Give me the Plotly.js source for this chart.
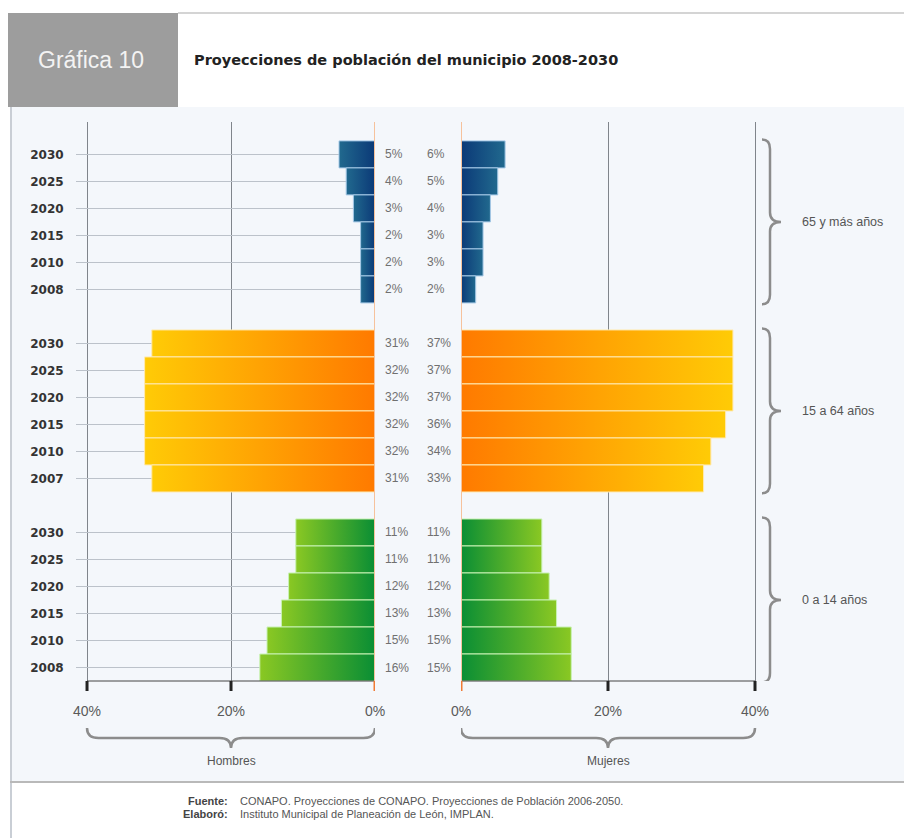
<!DOCTYPE html>
<html>
<head>
<meta charset="utf-8">
<script src="https://cdn.plot.ly/plotly-3.0.1.min.js"></script>
<style>html,body{margin:0;padding:0;background:#fff;}#chart{width:904px;height:838px;}</style>
</head>
<body>
<div id="chart"></div>
<script>
// ---- Data ----
const years65 = ['2030','2025','2020','2015','2010','2008'];
const hombres65 = [5,4,3,2,2,2];
const mujeres65 = [6,5,4,3,3,2];

const years1564 = ['2030','2025','2020','2015','2010','2007'];
const hombres1564 = [31,32,32,32,32,31];
const mujeres1564 = [37,37,37,36,34,33];

const years014 = ['2030','2025','2020','2015','2010','2008'];
const hombres014 = [11,11,12,13,15,16];
const mujeres014 = [11,11,12,13,15,15];

const groupLabels = ['0 a 14 años','15 a 64 años','65 y más años'];
const axisTickVals = [40,20,0];
const axisTickText = ['40%','20%','0%'];
const sideLabels = ['Hombres','Mujeres'];

// ---- Styling / geometry ----
const W = 904, H = 838;
const px = x => x / W;
const py = y => 1 - y / H;

const groups = [
  {years: years014, h: hombres014, m: mujeres014, label: groupLabels[0],
   outer: '#8ac823', center: '#0a8e34', sep: '#c8f2b4'},
  {years: years1564, h: hombres1564, m: mujeres1564, label: groupLabels[1],
   outer: '#ffcb06', center: '#ff7a00', sep: '#ffe9b0'},
  {years: years65, h: hombres65, m: mujeres65, label: groupLabels[2],
   outer: '#21698e', center: '#0b3977', sep: '#a4c8e6'}
];

const traces = [];
const annotations = [];
const shapes = [];
let tickvals = [], ticktext = [];
const gradInfo = [];
const pctFont = {size: 12, color: '#707070', family: 'Liberation Sans, Arial'};

groups.forEach((g, gi) => {
  const rows = g.years.map((_, i) => gi * 7 + (g.years.length - 1 - i));
  tickvals = tickvals.concat(rows);
  ticktext = ticktext.concat(g.years);
  traces.push({
    type: 'bar', orientation: 'h', x: g.h, y: rows, xaxis: 'x', yaxis: 'y',
    width: 1, marker: {color: g.center, line: {color: g.sep, width: 1}}, hoverinfo: 'skip'
  });
  gradInfo.push({outer: g.outer, center: g.center, side: 'left'});
  traces.push({
    type: 'bar', orientation: 'h', x: g.m, y: rows, xaxis: 'x2', yaxis: 'y2',
    width: 1, marker: {color: g.center, line: {color: g.sep, width: 1}}, hoverinfo: 'skip'
  });
  gradInfo.push({outer: g.outer, center: g.center, side: 'right'});

  rows.forEach((r, i) => {
    annotations.push({xref: 'paper', yref: 'y', x: px(383), y: r, xanchor: 'left', yanchor: 'middle',
      text: g.h[i] + '%', showarrow: false, font: pctFont});
    annotations.push({xref: 'paper', yref: 'y', x: px(425), y: r, xanchor: 'left', yanchor: 'middle',
      text: g.m[i] + '%', showarrow: false, font: pctFont});
  });

  // group label
  const yTop = gi * 7 + 5 + 0.55, yBot = gi * 7 - 0.55, yMid = (yTop + yBot) / 2;
  annotations.push({xref: 'paper', yref: 'y', x: px(800), y: yMid, xanchor: 'left', yanchor: 'middle',
    text: g.label, showarrow: false, font: {size: 12.5, color: '#555', family: 'Liberation Sans, Arial'}});

  // right curly brace
  const xl = px(770), xe = px(762), xt = px(781), dy = 0.35;
  shapes.push({type: 'path', xref: 'paper', yref: 'y', layer: 'above',
    path: `M ${xe},${yTop} Q ${xl},${yTop} ${xl},${yTop - dy} L ${xl},${yMid + dy} Q ${xl},${yMid} ${xt},${yMid} Q ${xl},${yMid} ${xl},${yMid - dy} L ${xl},${yBot + dy} Q ${xl},${yBot} ${xe},${yBot}`,
    line: {color: '#8c8c8c', width: 2.5}});
});

// Background panels / header / footer
shapes.unshift(
  {type: 'rect', xref: 'paper', yref: 'paper', x0: px(10), x1: px(904), y0: py(782), y1: py(107),
   fillcolor: '#f4f7fb', line: {width: 0}, layer: 'below'},
  {type: 'rect', xref: 'paper', yref: 'paper', x0: px(8), x1: px(178), y0: py(107), y1: py(13),
   fillcolor: '#9d9d9d', line: {width: 0}, layer: 'below'},
  {type: 'line', xref: 'paper', yref: 'paper', x0: px(178), x1: px(904), y0: py(13), y1: py(13),
   line: {color: '#d4d4d4', width: 2}, layer: 'below'},
  {type: 'line', xref: 'paper', yref: 'paper', x0: px(11), x1: px(11), y0: py(838), y1: py(107),
   line: {color: '#c9ced5', width: 2}, layer: 'below'},
  {type: 'line', xref: 'paper', yref: 'paper', x0: px(10), x1: px(904), y0: py(782), y1: py(782),
   line: {color: '#b9b9b9', width: 2}, layer: 'below'}
);

// axis base lines, zero lines, ticks and braces below axes
const yAxisPx = 681;
[['x', 40, 0], ['x2', 0, 40]].forEach(([xr, a, b], si) => {
  shapes.push({type: 'line', xref: xr, yref: 'paper', x0: a, x1: b, y0: py(yAxisPx), y1: py(yAxisPx),
    line: {color: '#444', width: 1}, layer: 'above'});
  shapes.push({type: 'line', xref: xr, yref: 'paper', x0: 0, x1: 0, y0: py(yAxisPx), y1: py(122),
    line: {color: '#f6c29c', width: 2}, layer: 'above'});
  axisTickVals.forEach(v => {
    shapes.push({type: 'line', xref: xr, yref: 'paper', x0: v, x1: v, y0: py(yAxisPx + 10), y1: py(yAxisPx),
      line: {color: v === 0 ? '#f07b35' : '#222', width: 3}, layer: 'above'});
  });
  // horizontal brace
  const s = Math.sign(b - a), d = 1.6, xm = (a + b) / 2;
  const yEnd = py(728), yLine = py(738), yTip = py(748);
  shapes.push({type: 'path', xref: xr, yref: 'paper', layer: 'above',
    path: `M ${a},${yEnd} Q ${a},${yLine} ${a + s * d},${yLine} L ${xm - s * d},${yLine} Q ${xm},${yLine} ${xm},${yTip} Q ${xm},${yLine} ${xm + s * d},${yLine} L ${b - s * d},${yLine} Q ${b},${yLine} ${b},${yEnd}`,
    line: {color: '#8c8c8c', width: 2.5}});
  annotations.push({xref: xr, yref: 'paper', x: xm, y: py(761), text: sideLabels[si], showarrow: false,
    xanchor: 'center', yanchor: 'middle', font: {size: 12, color: '#555', family: 'Liberation Sans, Arial'}});
});

// header & footer text
annotations.push(
  {xref: 'paper', yref: 'paper', x: px(91), y: py(60), text: 'Gráfica 10', showarrow: false,
   xanchor: 'center', yanchor: 'middle', font: {size: 23, color: '#f3f3f3', family: 'Liberation Sans, Arial'}},
  {xref: 'paper', yref: 'paper', x: px(192), y: py(60), text: '<b>Proyecciones de población del municipio 2008-2030</b>',
   showarrow: false, xanchor: 'left', yanchor: 'middle', font: {size: 14.5, color: '#222', family: 'DejaVu Sans'}},
  {xref: 'paper', yref: 'paper', x: px(230), y: py(801), text: '<b>Fuente:</b>', showarrow: false,
   xanchor: 'right', yanchor: 'middle', font: {size: 11, color: '#444', family: 'Liberation Sans, Arial'}},
  {xref: 'paper', yref: 'paper', x: px(238), y: py(801), text: 'CONAPO. Proyecciones de CONAPO. Proyecciones de Población 2006-2050.', showarrow: false,
   xanchor: 'left', yanchor: 'middle', font: {size: 11, color: '#555', family: 'Liberation Sans, Arial'}},
  {xref: 'paper', yref: 'paper', x: px(230), y: py(814), text: '<b>Elaboró:</b>', showarrow: false,
   xanchor: 'right', yanchor: 'middle', font: {size: 11, color: '#444', family: 'Liberation Sans, Arial'}},
  {xref: 'paper', yref: 'paper', x: px(238), y: py(814), text: 'Instituto Municipal de Planeación de León, IMPLAN.', showarrow: false,
   xanchor: 'left', yanchor: 'middle', font: {size: 11, color: '#555', family: 'Liberation Sans, Arial'}}
);

const yDomain = [py(681), py(122)];
const yRange = [-0.5, 20.2];
const xCommon = {
  tickvals: axisTickVals, ticktext: axisTickText, showgrid: true, gridcolor: '#80858b', gridwidth: 1,
  zeroline: false, showline: false, ticks: '',
  ticklabelstandoff: 20, tickfont: {size: 14, color: '#5a5a5a', family: 'Liberation Sans, Arial'}, fixedrange: true
};

const layout = {
  width: W, height: H, margin: {l: 0, r: 0, t: 0, b: 0, autoexpand: false},
  paper_bgcolor: '#ffffff', plot_bgcolor: 'rgba(0,0,0,0)', showlegend: false, barmode: 'overlay',
  font: {family: 'Liberation Sans, Arial'},
  xaxis: Object.assign({}, xCommon, {domain: [px(76), px(375)], range: [41.53, 0], anchor: 'y'}),
  xaxis2: Object.assign({}, xCommon, {domain: [px(461), px(760)], range: [0, 40.68], anchor: 'y2'}),
  yaxis: {domain: yDomain, range: yRange, tickvals: tickvals, ticktext: ticktext, showgrid: true,
    gridcolor: '#bcc2ca', gridwidth: 1.5, zeroline: false, showline: false, ticks: 'outside', ticklen: 9,
    tickcolor: 'rgba(0,0,0,0)', tickfont: {size: 12, color: '#333', family: 'DejaVu Sans', weight: 'bold'},
    anchor: 'x', fixedrange: true},
  yaxis2: {domain: yDomain, range: yRange, showgrid: false, zeroline: false, showticklabels: false,
    showline: false, anchor: 'x2', fixedrange: true},
  shapes: shapes, annotations: annotations
};

const gd = document.getElementById('chart');
Plotly.newPlot(gd, traces, layout, {displayModeBar: false, staticPlot: true}).then(() => {
  const svg = gd.querySelector('.main-svg');
  let defs = svg.querySelector('defs');
  const NS = 'http://www.w3.org/2000/svg';
  if (!defs) { defs = document.createElementNS(NS, 'defs'); svg.insertBefore(defs, svg.firstChild); }
  gradInfo.forEach((gi, idx) => {
    const lg = document.createElementNS(NS, 'linearGradient');
    lg.setAttribute('id', 'bargrad' + idx);
    lg.setAttribute('x1', '0'); lg.setAttribute('x2', '1'); lg.setAttribute('y1', '0'); lg.setAttribute('y2', '0');
    const c0 = gi.side === 'left' ? gi.outer : gi.center;
    const c1 = gi.side === 'left' ? gi.center : gi.outer;
    [[0, c0], [1, c1]].forEach(([o, c]) => {
      const st = document.createElementNS(NS, 'stop');
      st.setAttribute('offset', o); st.setAttribute('stop-color', c);
      lg.appendChild(st);
    });
    defs.appendChild(lg);
  });
  gd.querySelectorAll('.barlayer .trace').forEach(tg => {
    const d = tg.__data__;
    if (!d || !d[0] || !d[0].trace) return;
    const idx = d[0].trace.index;
    tg.querySelectorAll('.point path').forEach(p => { p.style.fill = 'url(#bargrad' + idx + ')'; });
  });
});
</script>
</body>
</html>
